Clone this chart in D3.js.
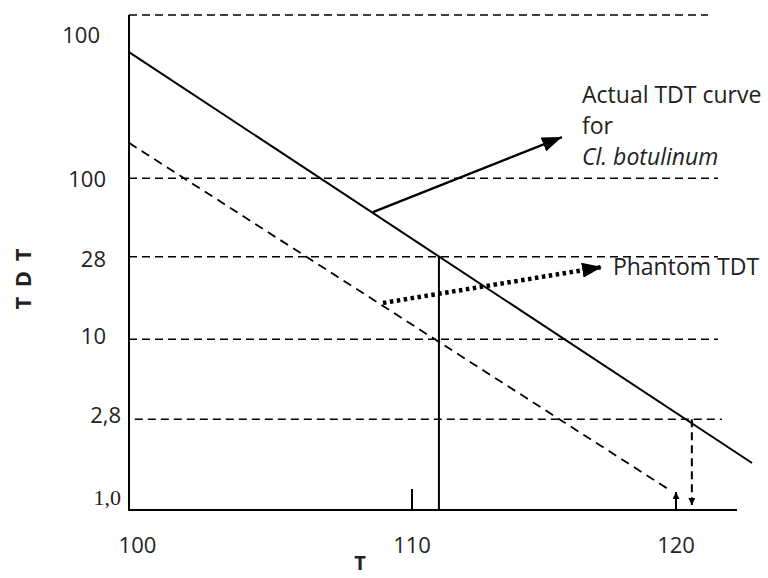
<!DOCTYPE html>
<html>
<head>
<meta charset="utf-8">
<script src="https://cdn.jsdelivr.net/npm/d3@7.9.0/dist/d3.min.js"></script>
<style>
  body { margin: 0; background: #fff; }
  text { font-family: 'Open Sans', sans-serif; fill: #222; }
</style>
</head>
<body>
<div id="chart"></div>
<script>
// values: T in °, y in "grid levels" (schematic log axis)
const xTicks = [110, 120];
const xLabels = ['100', '110', '120'];
const xLabelValues = [99.6, 110, 120];

const yLabels = ['1,0', '2,8', '10', '28', '100', '100'];
const yLabelLevels = [0.16, 1.15, 2.1, 3.04, 4.01, 5.76];

const gridLevels = [1.1, 2.07, 3.07, 4.02, 6];
const gridStart = [99.5, 99.28, 99.28, 99.28, 99.28];
const gridEnd = [121.74, 121.59, 121.59, 121.59, 121.21];

const actualCurve = [[99.28, 5.55], [122.88, 0.57]];
const phantomCurve = [[99.28, 4.45], [119.77, 0.24]];
const actualDrop = [[111.02, 3.07], [111.02, 0]];
const phantomDrop = [[120.6, 1.1], [120.6, 0.06]];

const actualArrow = [[108.52, 3.61], [115.68, 4.52]];
const phantomArrow = [[108.9, 2.51], [117.2, 2.945]];

const actualNote = ['Actual TDT curve', 'for', 'Cl. botulinum'];
const phantomNote = 'Phantom TDT';

const width = 768, height = 578;
const margin = { top: 15, right: 31, bottom: 68, left: 129 };

const svg = d3.select('#chart').append('svg')
  .attr('width', width)
  .attr('height', height);

const xScale = d3.scaleLinear()
  .domain([110, 120])
  .range([412, 676]);

const yScale = d3.scaleLinear()
  .domain([0, 6])
  .range([height - margin.bottom, margin.top]);

const xMin = xScale.invert(margin.left);
const xMax = xScale.invert(width - margin.right);

const defs = svg.append('defs');
function marker(id, w, h) {
  defs.append('marker')
    .attr('id', id)
    .attr('markerUnits', 'userSpaceOnUse')
    .attr('markerWidth', w)
    .attr('markerHeight', h)
    .attr('refX', w)
    .attr('refY', h / 2)
    .attr('orient', 'auto')
    .append('path')
    .attr('d', `M0,0L${w},${h / 2}L0,${h}Z`)
    .attr('fill', '#000');
}
marker('head', 20, 15);
marker('small', 7, 7);

const line = d3.line(d => xScale(d[0]), d => yScale(d[1]));

// dashed grid
svg.append('g')
  .selectAll('line')
  .data(gridLevels)
  .join('line')
  .attr('x1', (d, i) => xScale(gridStart[i]))
  .attr('x2', (d, i) => xScale(gridEnd[i]))
  .attr('y1', d => yScale(d))
  .attr('y2', d => yScale(d))
  .attr('stroke', '#000')
  .attr('stroke-width', 1.5)
  .attr('stroke-dasharray', '8,5');

// axes
svg.append('path')
  .attr('d', line([[xMin, 6], [xMin, 0], [xMax, 0]]))
  .attr('fill', 'none')
  .attr('stroke', '#000')
  .attr('stroke-width', 2);

svg.append('g')
  .selectAll('line')
  .data(xTicks)
  .join('line')
  .attr('x1', d => xScale(d))
  .attr('x2', d => xScale(d))
  .attr('y1', yScale(0))
  .attr('y2', (d, i) => yScale(0) - (i ? 18 : 21))
  .attr('stroke', '#000')
  .attr('stroke-width', 2)
  .attr('marker-end', (d, i) => i ? 'url(#small)' : null);

// curves
svg.append('path')
  .attr('d', line(actualCurve))
  .attr('stroke', '#000')
  .attr('stroke-width', 2);

svg.append('path')
  .attr('d', line(phantomCurve))
  .attr('stroke', '#000')
  .attr('stroke-width', 1.8)
  .attr('stroke-dasharray', '9,6');

svg.append('path')
  .attr('d', line(actualDrop))
  .attr('stroke', '#000')
  .attr('stroke-width', 2);

svg.append('path')
  .attr('d', line(phantomDrop))
  .attr('stroke', '#000')
  .attr('stroke-width', 2)
  .attr('stroke-dasharray', '8,5')
  .attr('marker-end', 'url(#small)');

// annotation arrows
svg.append('path')
  .attr('d', line(actualArrow))
  .attr('stroke', '#000')
  .attr('stroke-width', 2.5)
  .attr('marker-end', 'url(#head)');

svg.append('path')
  .attr('d', line(phantomArrow))
  .attr('stroke', '#000')
  .attr('stroke-width', 4.5)
  .attr('stroke-dasharray', '3.5,3.5')
  .attr('marker-end', 'url(#head)');

// tick labels
svg.append('g')
  .selectAll('text')
  .data(yLabels)
  .join('text')
  .attr('x', (d, i) => i < 2 ? 121 : (i === 5 ? 100 : 106))
  .attr('y', (d, i) => yScale(yLabelLevels[i]))
  .attr('dy', '0.35em')
  .attr('text-anchor', 'end')
  .style('font-size', '22px')
  .style('font-family', (d, i) => i === 0 ? "'Liberation Serif', serif" : null)
  .text(d => d);

svg.append('g')
  .selectAll('text')
  .data(xLabels)
  .join('text')
  .attr('x', (d, i) => xScale(xLabelValues[i]))
  .attr('y', 553)
  .attr('text-anchor', 'middle')
  .style('font-size', '22px')
  .text(d => d);

// axis titles
svg.append('text')
  .attr('x', 360)
  .attr('y', 570)
  .attr('text-anchor', 'middle')
  .style('font-size', '20px')
  .style('font-weight', 'bold')
  .text('T');

svg.append('text')
  .attr('transform', 'translate(31,278) rotate(-90)')
  .attr('text-anchor', 'middle')
  .style('font-size', '22px')
  .style('font-weight', 'bold')
  .style('letter-spacing', '2px')
  .text('T D T');

// notes
svg.append('g')
  .attr('transform', `translate(${xScale(116.44)},${yScale(4.93)})`)
  .selectAll('text')
  .data(actualNote)
  .join('text')
  .attr('y', (d, i) => i * 31)
  .style('font-size', '23px')
  .style('font-style', (d, i) => i === 2 ? 'italic' : null)
  .text(d => d);

svg.append('text')
  .attr('x', xScale(117.61))
  .attr('y', yScale(2.85))
  .style('font-size', '23px')
  .text(phantomNote);
</script>
</body>
</html>
